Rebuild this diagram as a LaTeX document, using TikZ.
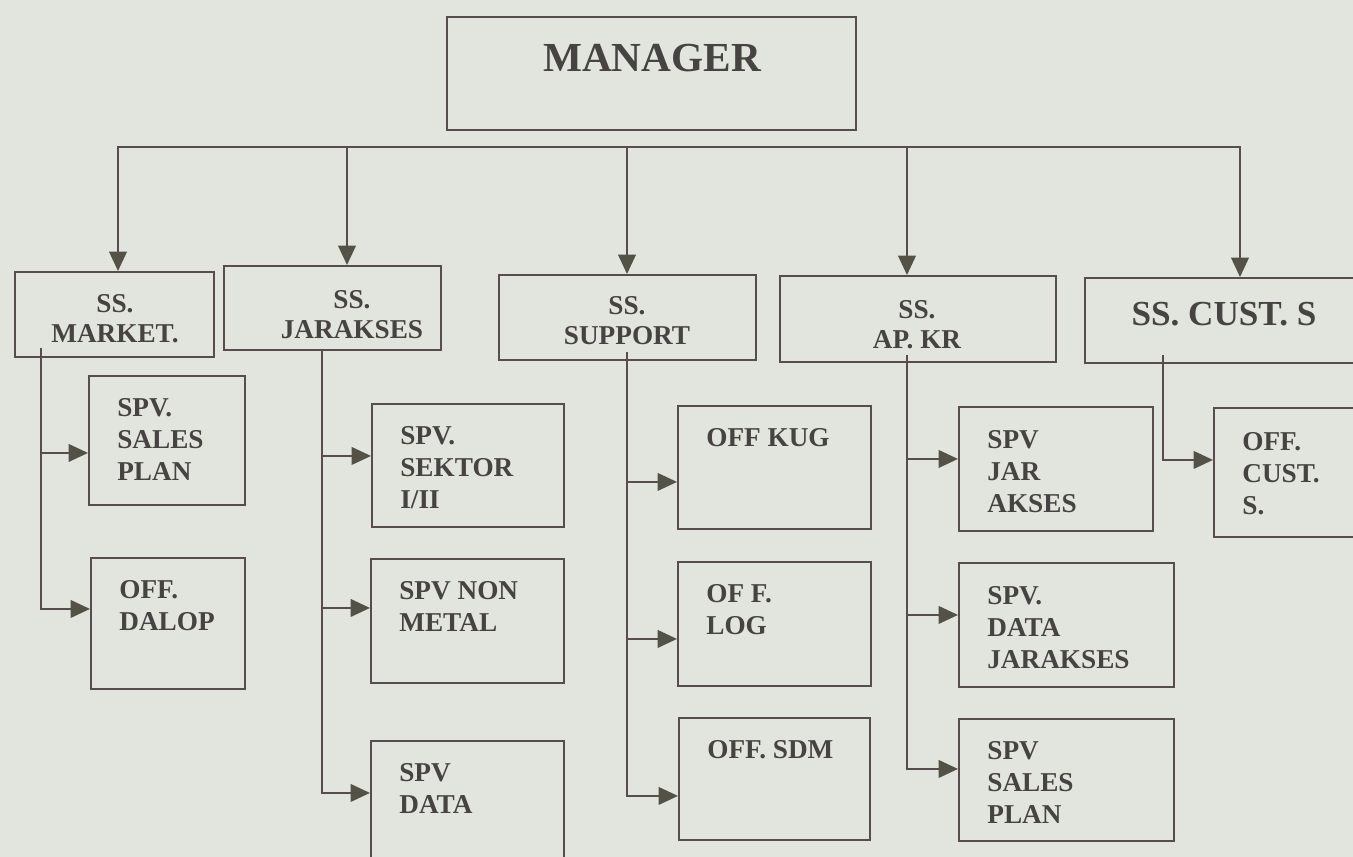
\documentclass[tikz,border=0pt]{standalone}
\usepackage{fontspec}
\setmainfont{Liberation Serif}
\usetikzlibrary{arrows.meta}
\definecolor{paper}{RGB}{226,229,221}
\definecolor{ink}{RGB}{88,76,78}
\definecolor{txt}{RGB}{72,67,67}
\definecolor{tip}{RGB}{84,82,70}
\tikzset{
  box/.style={draw=ink, line width=1.1pt, inner sep=0pt},
  sub/.style={box, anchor=north west},
  lbl/.style={text=txt, font=\bfseries\fontsize{15.5}{18.2}\selectfont, inner sep=0pt, align=left, anchor=north west},
  head/.style={text=txt, font=\bfseries\fontsize{15.5}{17}\selectfont, inner sep=0pt, align=center},
  link/.style={draw=ink, line width=1.1pt, -{Triangle[length=11pt,width=10pt,color=tip]}},
}
\begin{document}
\begin{tikzpicture}[x=0.02cm, y=-0.02cm]
  % page
  \fill[paper] (0,0) rectangle (1353,857);
  \useasboundingbox (0,0) rectangle (1353,857);
  \clip (0,0) rectangle (1353,857);
  % manager
  \node[box, minimum width=8.18cm, minimum height=2.26cm] (mgr) at (651.5,73.5) {};
  \node[text=txt, font=\bfseries\fontsize{23.5}{27}\selectfont, inner sep=0pt] (mgr-t) at (652,58.5) {MANAGER};
  % first level
  \node[box, minimum width=3.98cm, minimum height=1.70cm] (market) at (114.5,314.5) {};
  \node[box, minimum width=4.34cm, minimum height=1.68cm] (jarakses) at (332.5,308) {};
  \node[box, minimum width=5.14cm, minimum height=1.70cm] (support) at (627.5,317.5) {};
  \node[box, minimum width=5.52cm, minimum height=1.72cm] (apkr) at (918,319) {};
  \node[box, minimum width=5.60cm, minimum height=1.70cm] (custs) at (1225,320.5) {};
  \node[head] (market-t) at (115,319) {SS.\\MARKET.};
  \node[head] (jarakses-t) at (352,314.5) {SS.\\JARAKSES};
  \node[head] (support-t) at (627,321) {SS.\\SUPPORT};
  \node[head] (apkr-t) at (917,325) {SS.\\AP. KR};
  \node[head, font=\bfseries\fontsize{20}{23}\selectfont] (custs-t) at (1224,314) {SS. CUST. S};
  % bus
  \coordinate (b1) at (118,147);
  \coordinate (b2) at (347,147);
  \coordinate (b3) at (627,147);
  \coordinate (b4) at (907,147);
  \coordinate (b5) at (1240,147);
  \draw[ink, line width=1.1pt, line cap=rect] (b1) -- (b5);
  \draw[link] (b1) -- (b1 |- market.north);
  \draw[link] (b2) -- (b2 |- jarakses.north);
  \draw[link] (b3) -- (b3 |- support.north);
  \draw[link] (b4) -- (b4 |- apkr.north);
  \draw[link] (b5) -- (b5 |- custs.north);
  % second level: marketing
  \node[sub, minimum width=3.12cm, minimum height=2.58cm] (spv-sales) at (88,375) {};
  \node[sub, minimum width=3.08cm, minimum height=2.62cm] (off-dalop) at (90,557) {};
  \node[lbl] (spv-sales-t) at ([shift={(29,23)}]spv-sales.north west) {SPV.\\SALES\\PLAN};
  \node[lbl] (off-dalop-t) at ([shift={(29,23)}]off-dalop.north west) {OFF.\\DALOP};
  \coordinate (t1) at (41,348);
  \draw[link] (t1) |- ([yshift=-0.25cm]spv-sales.west);
  \draw[link] (t1) |- ([yshift=0.29cm]off-dalop.west);
  % second level: jarakses
  \node[sub, minimum width=3.84cm, minimum height=2.46cm] (spv-sektor) at (371,403) {};
  \node[sub, minimum width=3.86cm, minimum height=2.48cm] (spv-nonmetal) at (370,558) {};
  \node[sub, minimum width=3.86cm, minimum height=2.60cm] (spv-data) at (370,740) {};
  \node[lbl] (spv-sektor-t) at ([shift={(29,23)}]spv-sektor.north west) {SPV.\\SEKTOR\\I/II};
  \node[lbl] (spv-nonmetal-t) at ([shift={(29,23)}]spv-nonmetal.north west) {SPV NON\\METAL};
  \node[lbl] (spv-data-t) at ([shift={(29,23)}]spv-data.north west) {SPV\\DATA};
  \coordinate (t2) at (322,350);
  \draw[link] (t2) |- ([yshift=0.19cm]spv-sektor.west);
  \draw[link] (t2) |- ([yshift=0.26cm]spv-nonmetal.west);
  \draw[link] (t2) |- ([yshift=0.26cm]spv-data.west);
  % second level: support
  \node[sub, minimum width=3.86cm, minimum height=2.46cm] (off-kug) at (677,405) {};
  \node[sub, minimum width=3.86cm, minimum height=2.48cm] (off-log) at (677,561) {};
  \node[sub, minimum width=3.82cm, minimum height=2.44cm] (off-sdm) at (678,717) {};
  \node[lbl] (off-kug-t) at ([shift={(29,23)}]off-kug.north west) {OFF KUG};
  \node[lbl] (off-log-t) at ([shift={(29,23)}]off-log.north west) {OF F.\\LOG};
  \node[lbl] (off-sdm-t) at ([shift={(29,23)}]off-sdm.north west) {OFF. SDM};
  \coordinate (t3) at (627,352);
  \draw[link] (t3) |- ([yshift=-0.29cm]off-kug.west);
  \draw[link] (t3) |- ([yshift=-0.30cm]off-log.west);
  \draw[link] (t3) |- ([yshift=-0.34cm]off-sdm.west);
  % second level: ap. kr
  \node[sub, minimum width=3.88cm, minimum height=2.48cm] (spv-jar) at (958,406) {};
  \node[sub, minimum width=4.30cm, minimum height=2.48cm] (spv-datajar) at (958,562) {};
  \node[sub, minimum width=4.30cm, minimum height=2.44cm] (spv-sales2) at (958,718) {};
  \node[lbl] (spv-jar-t) at ([shift={(29,24)}]spv-jar.north west) {SPV\\JAR\\AKSES};
  \node[lbl] (spv-datajar-t) at ([shift={(29,24)}]spv-datajar.north west) {SPV.\\DATA\\JARAKSES};
  \node[lbl] (spv-sales2-t) at ([shift={(29,23)}]spv-sales2.north west) {SPV\\SALES\\PLAN};
  \coordinate (t4) at (907,355);
  \draw[link] (t4) |- ([yshift=0.20cm]spv-jar.west);
  \draw[link] (t4) |- ([yshift=0.20cm]spv-datajar.west);
  \draw[link] (t4) |- ([yshift=0.22cm]spv-sales2.west);
  % second level: cust. s
  \node[sub, minimum width=3.04cm, minimum height=2.58cm] (off-cust) at (1213,407) {};
  \node[lbl] (off-cust-t) at ([shift={(29,25)}]off-cust.north west) {OFF.\\CUST.\\S.};
  \coordinate (t5) at (1163,355);
  \draw[link] (t5) |- ([yshift=0.25cm]off-cust.west);
\end{tikzpicture}
\end{document}
